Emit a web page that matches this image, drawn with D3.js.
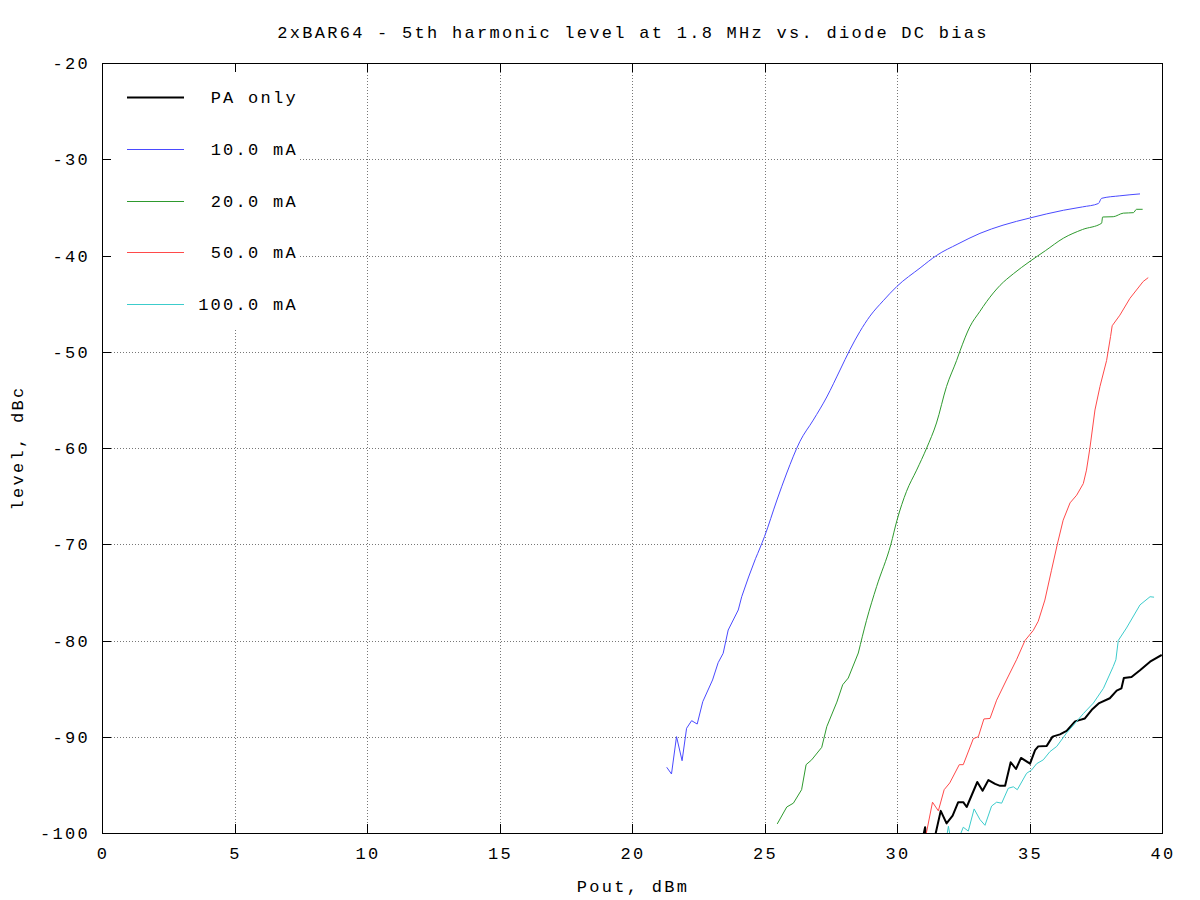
<!DOCTYPE html>
<html><head><meta charset="utf-8">
<script src="https://cdn.jsdelivr.net/npm/d3@7"></script>
<style>
body{margin:0;background:#fff;}
text{font-family:"Liberation Mono","DejaVu Sans Mono",monospace;font-size:17px;letter-spacing:2.28px;fill:#000;}
</style></head>
<body><svg id="c" width="1200" height="900"></svg>
<script>
const titleText = "2xBAR64 - 5th harmonic level at 1.8 MHz vs. diode DC bias";
const xLabel = "Pout, dBm";
const yLabel = "level, dBc";
const xTicks = [0,5,10,15,20,25,30,35,40];
const yTicks = [-20,-30,-40,-50,-60,-70,-80,-90,-100];
const legendNames = ["PA only","10.0 mA","20.0 mA","50.0 mA","100.0 mA"];
const seriesColors = ["#000000","#4a4aff","#2e9a2e","#ff4a4a","#3ccccc"];

const paOnly = [[30.9,-101.5],[31.06,-99.4],[31.15,-101.5],[31.3,-102],[31.65,-97.7],[31.87,-99.0],[32.1,-98.2],[32.31,-96.8],[32.5,-96.8],[32.63,-97.3],[33.03,-94.7],[33.23,-95.6],[33.45,-94.5],[33.70,-94.9],[33.89,-95.1],[34.08,-95.1],[34.29,-92.65],[34.49,-93.35],[34.68,-92.2],[35.02,-92.8],[35.21,-91.4],[35.33,-91.0],[35.65,-90.95],[35.87,-89.99],[36.15,-89.75],[36.40,-89.4],[36.72,-88.4],[37.09,-88.1],[37.35,-87.2],[37.63,-86.5],[38.03,-86.0],[38.29,-85.2],[38.47,-84.97],[38.56,-83.9],[38.85,-83.8],[39.17,-83.1],[39.55,-82.2],[39.99,-81.5]];
const bias10 = [[21.31,-93.17],[21.49,-93.87],[21.68,-89.99],[21.89,-92.49],[22.06,-89.12],[22.25,-88.33],[22.46,-88.68],[22.67,-86.36],[23.04,-84.10],[23.25,-82.31],[23.44,-81.33],[23.63,-78.91],[24.01,-76.83],[24.14,-75.45],[24.40,-73.4],[24.66,-71.5],[25.0,-69.2],[25.47,-65.4],[25.84,-62.6],[26.34,-59.3],[26.84,-57.1],[27.35,-54.7],[27.85,-51.9],[28.23,-49.75],[28.6,-47.9],[28.98,-46.3],[29.48,-44.7],[30.0,-43.2],[30.87,-41.3],[31.49,-40.0],[32.3,-38.8],[33.13,-37.7],[34.0,-36.85],[35.02,-36.1],[36.28,-35.3],[37.0,-34.95],[37.6,-34.6],[37.72,-34.06],[38.41,-33.8],[39.17,-33.6]];
const bias20 = [[25.48,-99.06],[25.84,-97.3],[26.09,-96.9],[26.40,-95.5],[26.57,-92.9],[26.78,-92.4],[27.16,-91.1],[27.35,-88.95],[27.73,-86.4],[27.95,-84.6],[28.16,-83.9],[28.54,-81.3],[28.85,-77.9],[29.23,-74.4],[29.77,-70.0],[30.0,-67.5],[30.36,-64.5],[30.74,-62.3],[31.12,-60.0],[31.49,-57.4],[31.87,-53.6],[32.25,-50.9],[32.38,-49.9],[32.75,-47.4],[33.13,-45.8],[33.38,-44.8],[33.89,-43.1],[34.39,-41.9],[35.02,-40.6],[35.6,-39.5],[36.28,-38.2],[37.0,-37.3],[37.72,-36.65],[37.76,-36.0],[38.16,-35.97],[38.54,-35.6],[38.92,-35.55],[39.04,-35.2],[39.27,-35.2]];
const bias50 = [[31.0,-101.5],[31.34,-96.8],[31.56,-97.7],[31.78,-95.5],[31.99,-94.8],[32.35,-92.9],[32.5,-92.9],[32.88,-90.2],[33.07,-89.99],[33.28,-88.15],[33.51,-88.1],[33.76,-86.2],[34.13,-84.1],[34.51,-82.0],[34.83,-80.0],[35.14,-78.96],[35.33,-78.0],[35.58,-75.8],[35.83,-72.7],[36.05,-70.0],[36.27,-67.5],[36.53,-65.7],[36.78,-64.9],[37.03,-63.7],[37.15,-62.3],[37.28,-60.0],[37.47,-56.05],[37.66,-53.6],[37.91,-50.9],[38.06,-48.4],[38.12,-47.3],[38.41,-46.2],[38.79,-44.45],[39.29,-42.7],[39.48,-42.3]];
const bias100 = [[31.85,-100.8],[31.94,-99.3],[32.05,-101],[32.3,-100.8],[32.5,-99.4],[32.69,-99.8],[32.91,-97.5],[33.13,-98.6],[33.32,-99.2],[33.57,-97.2],[33.76,-96.8],[33.95,-96.9],[34.20,-95.35],[34.39,-95.2],[34.54,-95.5],[34.89,-93.8],[35.08,-93.45],[35.27,-92.8],[35.52,-92.4],[35.77,-91.55],[36.03,-91.0],[36.40,-89.6],[36.72,-88.6],[37.03,-87.6],[37.41,-86.5],[37.79,-84.97],[38.16,-82.7],[38.26,-82.0],[38.35,-80.0],[38.66,-78.7],[39.17,-76.3],[39.55,-75.45],[39.7,-75.5]];
const allSeries = [paOnly,bias10,bias20,bias50,bias100];
const seriesWidths = [2,1,1,1,1];
// x from which the measured curve is smooth (drawn with a monotone curve); below it straight segments
const smoothFrom = [Infinity,24.66,28.54,Infinity,Infinity];

const svg = d3.select("#c");
const L=102,R=1162,T=63,B=833;
const x = d3.scaleLinear().domain([0,40]).range([L,R]);
const y = d3.scaleLinear().domain([-100,-20]).range([B,T]);

svg.append("defs").append("clipPath").attr("id","clip")
  .append("rect").attr("x",L).attr("y",T).attr("width",R-L).attr("height",B-T);

// grid
const grid = svg.append("g").attr("stroke","#777").attr("stroke-width",1).attr("stroke-dasharray","1,2");
xTicks.slice(1,-1).forEach(t=>grid.append("line").attr("x1",Math.round(x(t))+0.5).attr("x2",Math.round(x(t))+0.5).attr("y1",T).attr("y2",B));
yTicks.slice(1,-1).forEach(t=>grid.append("line").attr("y1",Math.round(y(t))+0.5).attr("y2",Math.round(y(t))+0.5).attr("x1",L).attr("x2",R));

// legend background
svg.append("rect").attr("x",L+1).attr("y",T+1).attr("width",196).attr("height",264).attr("fill","#fff");

// series
const g = svg.append("g").attr("clip-path","url(#clip)");
const linLine = d3.line().x(d=>x(d[0])).y(d=>y(d[1]));
const smLine = d3.line().x(d=>x(d[0])).y(d=>y(d[1])).curve(d3.curveMonotoneX);
allSeries.forEach((s,i)=>{
  const a = s.filter(d=>d[0]<=smoothFrom[i]);
  const b = s.filter(d=>d[0]>=smoothFrom[i]);
  [[a,linLine],[b,smLine]].forEach(([pts,gen])=>{
    if(pts.length<2) return;
    g.append("path").datum(pts).attr("d",gen).attr("fill","none")
     .attr("stroke",seriesColors[i]).attr("stroke-width",seriesWidths[i]).attr("stroke-linejoin","round");
  });
});

// axes with inward ticks (mirrored)
const tk=9;
const axG = svg.append("g").attr("stroke","#000").attr("stroke-width",1);
xTicks.forEach(t=>{
  const px=Math.round(x(t))+0.5;
  axG.append("line").attr("x1",px).attr("x2",px).attr("y1",B).attr("y2",B-tk);
  axG.append("line").attr("x1",px).attr("x2",px).attr("y1",T).attr("y2",T+tk);
});
yTicks.forEach(t=>{
  const py=Math.round(y(t))+0.5;
  axG.append("line").attr("x1",L).attr("x2",L+tk).attr("y1",py).attr("y2",py);
  axG.append("line").attr("x1",R).attr("x2",R-tk).attr("y1",py).attr("y2",py);
});
svg.append("rect").attr("x",L+0.5).attr("y",T+0.5).attr("width",R-L).attr("height",B-T)
  .attr("fill","none").attr("stroke","#000").attr("stroke-width",1);

xTicks.forEach(t=>svg.append("text").attr("x",x(t)+1).attr("y",859).attr("text-anchor","middle").text(t));
yTicks.forEach(t=>svg.append("text").attr("x",90).attr("y",y(t)+6).attr("text-anchor","end").text("-"+Math.abs(t)));

svg.append("text").attr("x",633).attr("y",38).attr("text-anchor","middle").text(titleText);
svg.append("text").attr("x",633).attr("y",892).attr("text-anchor","middle").text(xLabel);
svg.append("text").attr("transform","translate(23,448) rotate(-90)").attr("text-anchor","middle").text(yLabel);

// legend
legendNames.forEach((n,i)=>{
  const ly = 97 + i*51.75;
  svg.append("line").attr("x1",127).attr("x2",184).attr("y1",Math.round(ly)+0.5).attr("y2",Math.round(ly)+0.5)
    .attr("stroke",seriesColors[i]).attr("stroke-width",seriesWidths[i]);
  svg.append("text").attr("x",298).attr("y",ly+6).attr("text-anchor","end").text(n);
});
</script></body></html>
